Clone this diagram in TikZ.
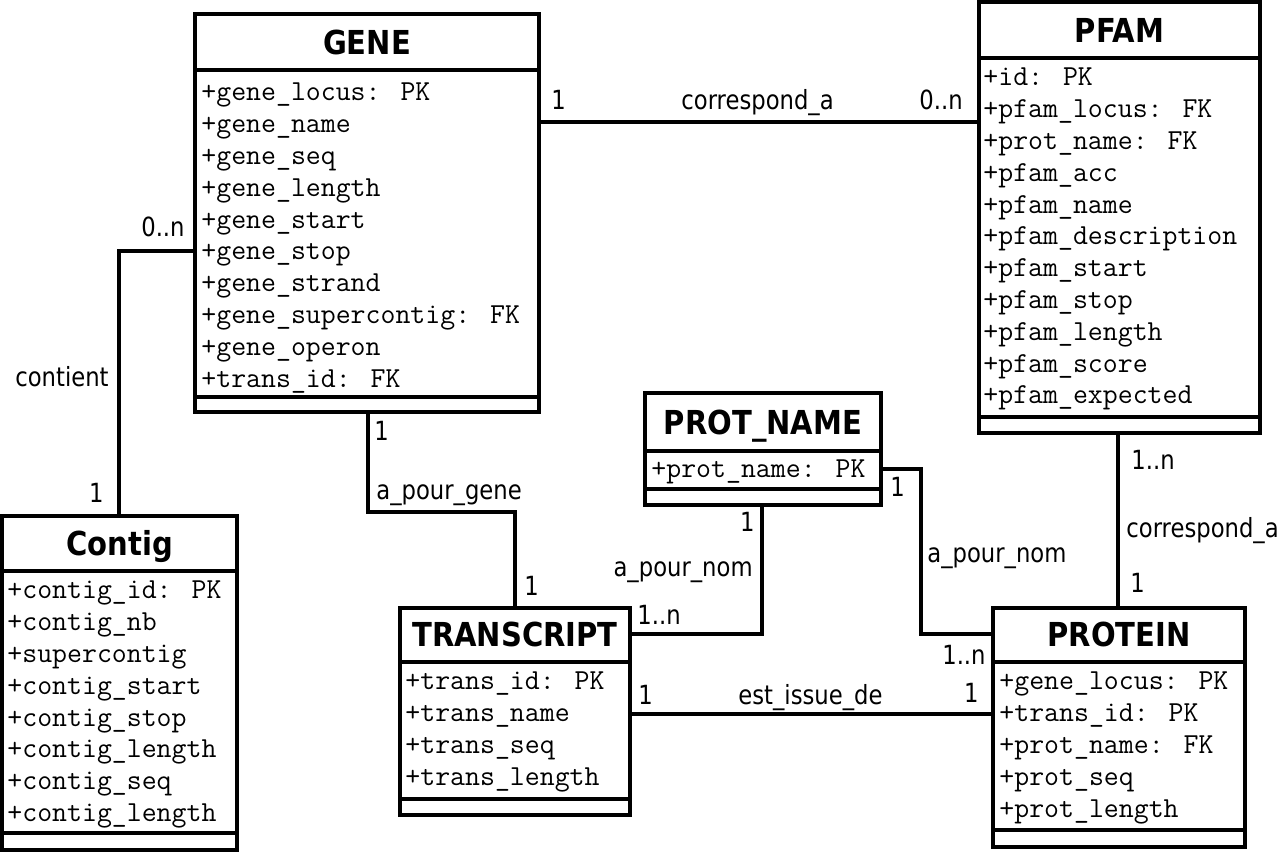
\documentclass[tikz,border=0pt]{standalone}
\usepackage{fontspec}
\newfontfamily\labfont[FakeStretch=0.86]{DejaVu Sans}
\newfontfamily\titfont[FakeStretch=0.88]{DejaVu Sans}
\begin{document}
\begin{tikzpicture}[x=0.5pt,y=-0.5pt,
  box/.style={draw=black, line width=2.1pt, fill=white, inner sep=0pt, outer sep=0pt, anchor=north west},
  sepline/.style={line width=2.1pt},
  conn/.style={line width=1.8pt, line join=miter},
  ctitle/.style={anchor=base, inner sep=0pt, font=\titfont\bfseries\fontsize{16.5}{18}\selectfont},
  attr/.style={anchor=base west, inner sep=0pt, font=\ttfamily\fontsize{14.5}{16}\selectfont},
  lab/.style={inner sep=0pt, font=\labfont\fontsize{13.2}{15}\selectfont},
  labw/.style={lab, anchor=base west},
  labe/.style={lab, anchor=base east}]
\useasboundingbox (0,0) rectangle (1282,854);
\fill[white] (0,0) rectangle (1282,854);

% class box: name, left, top, right, bottom, sep1, sep2
\newcommand\umlbox[7]{%
  \node[box, minimum width={(#4-#2)*0.5pt}, minimum height={(#5-#3)*0.5pt}] (#1) at (#2,#3) {};
  \draw[sepline] (#2,#6) -- (#4,#6);
  \draw[sepline] (#2,#7) -- (#4,#7);
}

% GENE
\umlbox{gene}{195}{14}{539}{412}{70}{397}
\node[ctitle] (gene-t) at (367,55) {GENE};
\foreach \t [count=\i from 0] in {+gene\_locus: PK,+gene\_name,+gene\_seq,+gene\_length,+gene\_start,+gene\_stop,+gene\_strand,+gene\_supercontig: FK,+gene\_operon,+trans\_id: FK}
  \node[attr] (gene-a\i) at (201,{101+\i*31.8}) {\t};

% PFAM
\umlbox{pfam}{979}{2}{1260}{433}{58}{417}
\node[ctitle] (pfam-t) at (1119.5,43) {PFAM};
\foreach \t [count=\i from 0] in {+id: PK,+pfam\_locus: FK,+prot\_name: FK,+pfam\_acc,+pfam\_name,+pfam\_description,+pfam\_start,+pfam\_stop,+pfam\_length,+pfam\_score,+pfam\_expected}
  \node[attr] (pfam-a\i) at (983,{86+\i*31.8}) {\t};

% Contig
\umlbox{contig}{2}{516}{237}{850}{571}{833}
\node[ctitle] (contig-t) at (119.5,556) {Contig};
\foreach \t [count=\i from 0] in {+contig\_id: PK,+contig\_nb,+supercontig,+contig\_start,+contig\_stop,+contig\_length,+contig\_seq,+contig\_length}
  \node[attr] (contig-a\i) at (7,{599+\i*31.8}) {\t};

% PROT_NAME
\umlbox{protname}{645}{393}{881}{505}{451}{489}
\node[ctitle] (protname-t) at (763,435) {PROT\_NAME};
\node[attr] (protname-a0) at (651,478) {+prot\_name: PK};

% TRANSCRIPT
\umlbox{transcript}{400}{608}{630}{815}{662}{799}
\node[ctitle] (transcript-t) at (515,647) {TRANSCRIPT};
\foreach \t [count=\i from 0] in {+trans\_id: PK,+trans\_name,+trans\_seq,+trans\_length}
  \node[attr] (transcript-a\i) at (405,{690+\i*31.8}) {\t};

% PROTEIN
\umlbox{protein}{993}{608}{1245}{847}{662}{830}
\node[ctitle] (protein-t) at (1119,647) {PROTEIN};
\foreach \t [count=\i from 0] in {+gene\_locus: PK,+trans\_id: PK,+prot\_name: FK,+prot\_seq,+prot\_length}
  \node[attr] (protein-a\i) at (999,{690+\i*31.8}) {\t};

% helper coordinates
\coordinate (y122) at (0,122);
\coordinate (y251) at (0,251);
\coordinate (x119) at (119,0);
\coordinate (x368) at (368,0);
\coordinate (x515) at (515,0);
\coordinate (x762) at (762,0);
\coordinate (y634) at (0,634);
\coordinate (y469) at (0,469);
\coordinate (x1118) at (1118,0);
\coordinate (y714) at (0,714);

% connectors
\draw[conn] (gene.east |- y122) -- (pfam.west |- y122);
\draw[conn] (gene.west |- y251) -- (x119 |- y251) -- (contig.north -| x119);
\draw[conn] (gene.south -| x368) -- (368,512) -- (515,512) -- (transcript.north -| x515);
\draw[conn] (protname.south -| x762) -- (x762 |- y634) -- (transcript.east |- y634);
\draw[conn] (protname.east |- y469) -- (921,469) -- (921,634) -- (protein.west |- y634);
\draw[conn] (pfam.south -| x1118) -- (protein.north -| x1118);
\draw[conn] (transcript.east |- y714) -- (protein.west |- y714);

% labels
\node[labw] (l1a) at (551,110) {1};
\node[labw] (l1b) at (681,110) {correspond\_a};
\node[labw] (l1c) at (919,110) {0..n};

\node[labe] (l2a) at (185,237) {0..n};
\node[labe] (l2b) at (109,387) {contient};
\node[labe] (l2c) at (104,503) {1};

\node[labw] (l3a) at (374,441) {1};
\node[labw] (l3b) at (376,500) {a\_pour\_gene};
\node[labw] (l3c) at (524,596) {1};

\node[labe] (l4a) at (755,532) {1};
\node[labe] (l4b) at (753,577) {a\_pour\_nom};
\node[labw] (l4c) at (637,625) {1..n};

\node[labw] (l5a) at (890,497) {1};
\node[labw] (l5b) at (927,563) {a\_pour\_nom};
\node[labe] (l5c) at (986,665) {1..n};

\node[labw] (l6a) at (1131,470) {1..n};
\node[labw] (l6b) at (1126,538) {correspond\_a};
\node[labw] (l6c) at (1130,593) {1};

\node[labw] (l7a) at (638,705) {1};
\node[labw] (l7b) at (738,705) {est\_issue\_de};
\node[labe] (l7c) at (979,703) {1};
\end{tikzpicture}
\end{document}
